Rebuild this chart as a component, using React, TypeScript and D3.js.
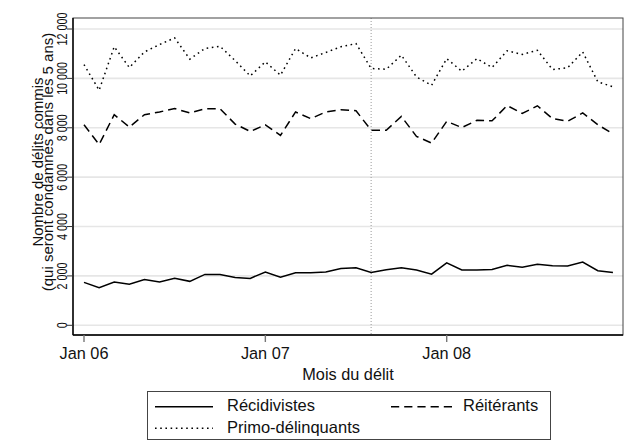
import { useEffect, useRef } from "react";
import * as d3 from "d3";

// monthly counts, Jan 2006 .. Dec 2008
const recidivistes = [1740, 1520, 1750, 1660, 1850, 1750, 1900, 1780, 2060, 2060, 1940, 1900,
  2160, 1950, 2130, 2130, 2160, 2300, 2330, 2140, 2250, 2330, 2240, 2070,
  2530, 2240, 2240, 2260, 2430, 2350, 2470, 2410, 2400, 2560, 2210, 2140];
const reiterants = [8120, 7320, 8530, 8030, 8530, 8640, 8780, 8600, 8770, 8770, 8150, 7850,
  8120, 7690, 8640, 8370, 8640, 8730, 8690, 7900, 7900, 8460, 7650, 7380,
  8260, 8010, 8300, 8280, 8900, 8580, 8890, 8370, 8260, 8600, 8120, 7760];
const primo = [10560, 9520, 11280, 10440, 11070, 11370, 11640, 10780, 11210, 11300, 10720, 10100,
  10670, 10130, 11210, 10830, 11050, 11280, 11410, 10400, 10370, 10940, 10060, 9720,
  10800, 10290, 10800, 10440, 11120, 10970, 11140, 10360, 10430, 11070, 9860, 9660];

const xTickMonths = [0, 12, 24];
const xTickLabels = ["Jan 06", "Jan 07", "Jan 08"];
const yTicks = [0, 2000, 4000, 6000, 8000, 10000, 12000];
const markerMonth = 19; // Aug 07

const FONT = "'Liberation Sans', Arial, Helvetica, sans-serif";

export default function App() {
  const svgRef = useRef<SVGSVGElement>(null);

  useEffect(() => {
    if (!svgRef.current) return;
    const svg = d3.select(svgRef.current);
    svg.selectAll("*").remove();

    const plot = { left: 73, right: 623, top: 18, bottom: 335 };
    const x = d3.scaleLinear().domain([0, 24]).range([84, 446.7]);
    const y = d3.scaleLinear().domain([0, 12000]).range([325.3, 29]);

    svg.append("rect").attr("width", 626).attr("height", 441).attr("fill", "#fff");

    // grid
    svg.selectAll("line.grid")
      .data(yTicks)
      .enter()
      .append("line")
      .attr("x1", plot.left).attr("x2", plot.right)
      .attr("y1", d => y(d)).attr("y2", d => y(d))
      .attr("stroke", "#e6e6e6")
      .attr("stroke-width", 1.6);

    // vertical marker
    svg.append("line")
      .attr("x1", x(markerMonth)).attr("x2", x(markerMonth))
      .attr("y1", plot.top).attr("y2", plot.bottom)
      .attr("stroke", "#999")
      .attr("stroke-width", 1)
      .attr("stroke-dasharray", "1,2");

    // frame
    svg.append("rect")
      .attr("x", plot.left).attr("y", plot.top)
      .attr("width", plot.right - plot.left).attr("height", plot.bottom - plot.top)
      .attr("fill", "none")
      .attr("stroke", "#444")
      .attr("stroke-width", 1);
    svg.append("line")
      .attr("x1", plot.left).attr("x2", plot.left)
      .attr("y1", plot.top).attr("y2", plot.bottom)
      .attr("stroke", "#000").attr("stroke-width", 1.4);
    svg.append("line")
      .attr("x1", plot.left).attr("x2", plot.right)
      .attr("y1", plot.bottom).attr("y2", plot.bottom)
      .attr("stroke", "#000").attr("stroke-width", 1.4);

    // y ticks + labels
    svg.selectAll("line.ytick")
      .data(yTicks)
      .enter()
      .append("line")
      .attr("x1", 67).attr("x2", plot.left)
      .attr("y1", d => y(d)).attr("y2", d => y(d))
      .attr("stroke", "#333").attr("stroke-width", 1);
    const fmt = (v: number) => d3.format(",")(v).replace(",", " ");
    svg.selectAll("text.ylab")
      .data(yTicks)
      .enter()
      .append("text")
      .attr("transform", d => `translate(66.5,${y(d)}) rotate(-90) scale(0.72,1)`)
      .attr("text-anchor", "middle")
      .attr("font-family", FONT)
      .attr("font-size", 15)
      .attr("fill", "#111")
      .text(d => fmt(d));

    // x ticks + labels
    svg.selectAll("line.xtick")
      .data(xTickMonths)
      .enter()
      .append("line")
      .attr("x1", d => x(d)).attr("x2", d => x(d))
      .attr("y1", plot.bottom).attr("y2", 342)
      .attr("stroke", "#777").attr("stroke-width", 1.4);
    svg.selectAll("text.xlab")
      .data(xTickMonths)
      .enter()
      .append("text")
      .attr("x", d => x(d))
      .attr("y", 358.5)
      .attr("text-anchor", "middle")
      .attr("font-family", FONT)
      .attr("font-size", 16.3)
      .attr("fill", "#111")
      .text((_, i) => xTickLabels[i]);

    // axis titles
    svg.append("text")
      .attr("x", 348).attr("y", 379.5)
      .attr("text-anchor", "middle")
      .attr("font-family", FONT)
      .attr("font-size", 16.3)
      .attr("fill", "#111")
      .text("Mois du délit");
    const yt = svg.append("g").attr("transform", "translate(0,162) rotate(-90)");
    yt.append("text")
      .attr("x", 0).attr("y", 42.5)
      .attr("text-anchor", "middle")
      .attr("font-family", FONT)
      .attr("font-size", 15)
      .attr("fill", "#111")
      .text("Nombre de délits commis");
    yt.append("text")
      .attr("x", 0).attr("y", 53)
      .attr("text-anchor", "middle")
      .attr("font-family", FONT)
      .attr("font-size", 15)
      .attr("fill", "#111")
      .text("(qui seront condamnés dans les 5 ans)");

    // series
    const line = d3.line<number>()
      .x((_, i) => x(i))
      .y(d => y(d));
    const series = [
      { name: "Récidivistes", values: recidivistes, dash: null },
      { name: "Réitérants", values: reiterants, dash: "8.5,5" },
      { name: "Primo-délinquants", values: primo, dash: "1.6,3.6" },
    ];
    svg.selectAll("path.series")
      .data(series)
      .enter()
      .append("path")
      .attr("fill", "none")
      .attr("stroke", "#000")
      .attr("stroke-width", 1.5)
      .attr("stroke-dasharray", d => d.dash)
      .attr("d", d => line(d.values));

    // legend
    svg.append("rect")
      .attr("x", 147.5).attr("y", 391.5)
      .attr("width", 403).attr("height", 48)
      .attr("fill", "#fff")
      .attr("stroke", "#444")
      .attr("stroke-width", 1);
    const legendPos = [
      { x1: 155, x2: 213, tx: 227, ly: 406.7, ty: 411 },
      { x1: 391, x2: 452, tx: 463, ly: 406.7, ty: 411 },
      { x1: 155, x2: 213, tx: 227, ly: 428.3, ty: 432.6 },
    ];
    series.forEach((s, i) => {
      const p = legendPos[i];
      svg.append("line")
        .attr("x1", p.x1).attr("x2", p.x2)
        .attr("y1", p.ly).attr("y2", p.ly)
        .attr("stroke", "#000")
        .attr("stroke-width", 1.5)
        .attr("stroke-dasharray", s.dash === "8.5,5" ? "8.2,5" : s.dash);
      svg.append("text")
        .attr("x", p.tx).attr("y", p.ty)
        .attr("font-family", FONT)
        .attr("font-size", 16.5)
        .attr("fill", "#111")
        .text(s.name);
    });
  }, []);

  return (
    <svg ref={svgRef} width={626} height={441}
      style={{ position: "absolute", left: 0, top: 0, display: "block" }} />
  );
}
